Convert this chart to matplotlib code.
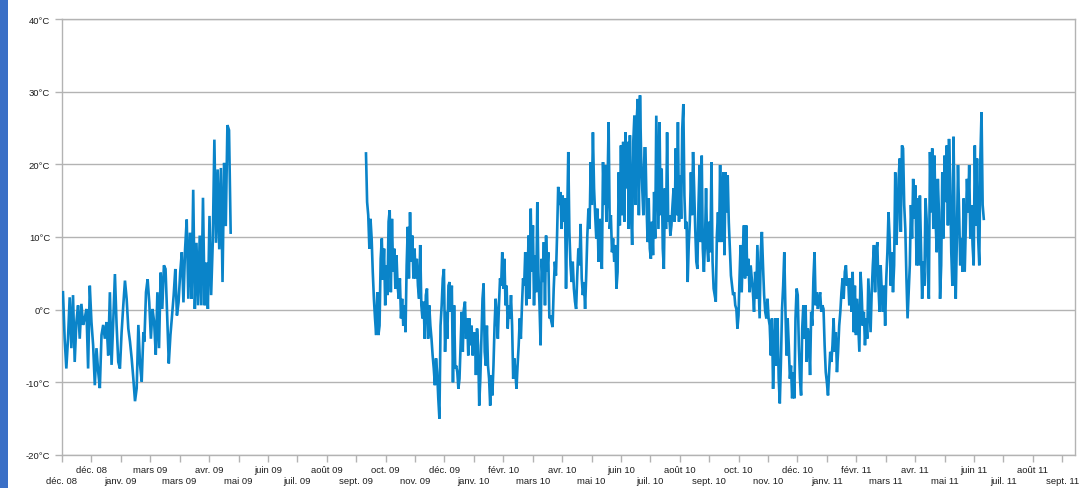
import matplotlib
matplotlib.use("Agg")
import matplotlib.pyplot as plt
from matplotlib.patches import Rectangle
import numpy as np
import pandas as pd

plt.rcParams["font.family"] = ["Liberation Sans", "DejaVu Sans"]

# ---------------------------------------------------------------------------
# Colours
# ---------------------------------------------------------------------------
C_LINE = "#0a84c9"
C_GRID = "#b3b3b3"
C_TEXT = "#1e1e1e"
C_BAR = "#3a6fc6"

# ---------------------------------------------------------------------------
# Temperature record (°C), one list per stretch of logger readings
# ---------------------------------------------------------------------------
DATES_WINTER_08 = ("2008-12-02", "2009-02-22")
T_WINTER_08 = [2.4, -4.0, -8.1, -4.0, 1.7, -5.3, 2.0, -7.2, -1.7, 0.6, -4.0, 0.8,
               -2.1, -1.2, 0.1, -8.1, 3.3, -1.7, -4.9, -10.4, -5.3, -8.5, -10.8,
               -3.5, -2.1, -4.0, -1.7, -6.3, 2.4, -7.6, -1.7, 4.9, -2.1, -7.2,
               -8.1, -3.1, 0.6, 4.0, 1.5, -2.6, -4.4, -6.7, -9.5, -12.6, -10.8,
               -2.1, -7.6, -9.9, -3.1]

DATES_SPRING_09 = ("2009-02-23", "2009-05-22")
T_SPRING_09 = [-4.4, 2.4, 4.2, 1.0, -4.0, 0.1, -1.7, -6.2, 2.4, -5.3, 5.1, 0.1,
               6.1, 5.6, -0.8, -7.4, -3.5, -0.8, 2.0, 5.6, -0.8, 1.0, 5.1, 7.9,
               1.0, 8.3, 12.4, 1.5, 10.6, 1.5, 16.5, 0.1, 9.2, 0.6, 10.2, 0.6,
               15.4, 0.6, 6.5, 0.1, 12.9, 2.0, 9.2, 23.4, 9.2, 19.3, 8.3, 19.5,
               3.8, 20.2, 11.5, 25.4, 24.7, 10.6]

DATES_AUTUMN_09 = ("2009-10-07", "2010-01-06")
T_AUTUMN_09 = [21.5, 14.8, 13.0, 8.4, 12.5, 9.8, 5.2, 1.5, -1.2, -3.5, 2.4, -3.5,
               -2.2, 7.0, 9.8, 4.1, 8.4, 0.6, 6.1, 2.0, 12.1, 13.7, 2.4, 12.5,
               5.2, 8.4, 2.9, 7.5, 3.3, 1.5, 4.3, -1.2, 1.5, -2.2, 0.6, -3.1,
               6.1, 11.4, 4.3, 13.4, 6.6, 10.2, 4.3, 8.4, 4.3, 7.0, 3.3, 1.5,
               8.9, 0.6, -1.2, 1.1, -4.0, 2.0, 2.9, -4.0, 0.6, -2.2, -4.0, -6.3,
               -8.1, -10.4, -6.7, -8.6, -12.2, -15.0, -2.2, 0.6, 4.3, 5.6, -5.8,
               -0.3, -4.0, 3.3, 3.8, -0.3, 3.3, -10.0, 0.6, -8.1]

DATES_WINTER_10 = ("2010-01-07", "2010-04-12")
T_WINTER_10 = [-7.7, -8.6, -10.9, -9.5, -4.9, -0.3, -5.8, 0.1, 1.1, -4.0, -1.2,
               -6.3, -1.2, -4.9, -2.2, -6.3, -4.0, -3.1, -9.0, -2.6, -4.9, -13.2,
               -9.5, -4.0, 1.5, 3.6, -5.8, -7.7, -2.2, -7.7, -9.5, -13.2, -9.0,
               -11.8, -7.7, -2.2, 1.5, -0.8, -4.0, 0.6, 4.3, 3.3, 7.9, 2.9, 7.0,
               0.6, 3.3, -2.6, 0.6, -1.2, 2.0, -2.2, -9.5, -6.7, -8.6, -10.9,
               -7.7, -4.9, -1.2, -4.0, 0.6, 4.3, 3.3, 7.9, 0.6, 3.3, 10.2, 1.5,
               13.9, 5.2, 11.6, 0.6, 7.5, 2.4, 14.8, 5.2, 0.6, -4.9, 7.0, 3.8,
               9.3, 0.6, 10.2, 5.2, 7.9, -1.2]

DATES_SPRING_10 = ("2010-04-13", "2010-07-18")
T_SPRING_10 = [-0.8, -1.7, -2.4, 2.9, 6.6, 4.7, 10.2, 16.9, 14.4, 16.2, 11.1,
               15.7, 12.1, 15.3, 2.9, 12.1, 21.7, 10.7, 6.1, 3.8, 6.6, 2.9, 1.1,
               0.1, 4.7, 8.4, 6.1, 11.8, 4.3, 2.0, 3.8, 0.1, 4.7, 10.2, 13.9,
               11.1, 20.3, 14.4, 24.4, 16.7, 13.0, 9.8, 13.9, 6.6, 12.5, 7.5,
               5.6, 20.3, 14.4, 19.9, 12.1, 16.7, 25.8, 11.1, 13.0, 7.9, 9.8,
               6.6, 8.9, 2.9, 5.2, 18.9, 11.6, 22.6, 13.0, 23.1, 12.1, 24.4,
               16.7, 23.1, 11.1, 24.0, 14.4, 8.9, 23.1, 26.7, 14.4, 25.8, 29.0,
               13.0, 29.5, 21.2, 16.7, 13.0, 22.2]

DATES_SUMMER_10 = ("2010-07-19", "2010-10-23")
T_SUMMER_10 = [22.2, 14.4, 9.3, 15.3, 8.4, 7.0, 12.1, 7.5, 16.2, 9.8, 26.7, 18.9,
               11.1, 25.8, 13.0, 19.4, 8.4, 5.6, 16.7, 11.1, 24.4, 12.1, 13.0,
               10.2, 11.6, 14.4, 16.7, 12.1, 22.2, 13.0, 25.8, 12.1, 18.5, 12.5,
               24.9, 28.3, 15.7, 11.1, 12.1, 3.8, 8.9, 12.1, 18.9, 13.0, 21.7,
               16.7, 11.1, 6.6, 5.6, 14.4, 19.9, 9.3, 21.2, 8.4, 5.2, 9.3, 16.7,
               8.9, 6.6, 12.1, 7.9, 20.3, 6.6, 2.9, 2.0, 1.1, 10.2, 13.4, 9.3,
               19.9, 9.3, 14.4, 18.9, 7.5, 18.9, 13.4, 18.5, 12.1, 8.4, 4.7, 3.3,
               2.0, 2.4, 0.6, 0.1, -2.6, -0.8, 4.7]

DATES_SEASON_11 = ("2010-10-24", "2011-06-29")
T_SEASON_11 = [8.9, 2.4, 7.9, 11.6, 4.3, 11.6, 4.7, 7.0, 2.4, 6.1, 4.3, 2.4,
               -0.3, 5.2, 1.5, 8.9, 3.8, -1.2, 7.9, 10.7, 6.1, 2.0, -0.3, -1.2,
               1.5, -1.2, -2.2, -6.3, -1.2, -10.9, -4.9, -1.2, -7.7, -1.2, -9.5,
               -12.9, -7.2, 0.1, 3.3, 7.9, 0.1, -6.3, -1.2, -4.9, -9.5, -7.7,
               -12.2, -8.6, -12.2, -1.2, 2.9, 2.0, -4.9, -9.5, -11.8, -2.6, 0.6,
               -4.0, 0.6, -7.2, -2.6, -4.0, -9.0, -0.3, -2.2, 4.3, 7.9, 0.6, 2.4,
               0.1, 1.5, 2.4, -0.3, 0.6, 0.1, -4.9, -8.6, -10.0, -11.8, -8.6,
               -5.8, -7.2, -4.9, -1.2, -5.8, -3.1, -8.6, -5.8, -2.2, -0.3, 2.4,
               4.3, 1.5, 5.2, 6.1, 3.3, 4.3, 0.6, 4.3, -0.3, 5.2, -3.1, 3.3,
               -3.5, 1.5, -2.2, -5.8, 5.2, 2.4, -2.2, -0.3, -4.9, -1.2, -4.0,
               4.3, 0.6, -3.1, 2.4, 6.1, 8.9, 2.4, 7.9, 9.3, 3.3, -0.3, 6.1, 2.4,
               -0.3, 3.3, -2.2, 4.3, 7.9, 13.4, 9.8, 3.3, 7.9, 2.4, 6.1, 18.9,
               8.9, 12.5, 18.0, 20.8, 10.7, 22.6, 22.2, 14.4, 11.1, 4.3, -1.2,
               2.4, 6.1, 14.4, 9.8, 18.0, 12.5, 17.1, 6.1, 15.3, 6.1, 15.7, 8.9,
               1.5, 6.6, 3.3, 15.3, 12.5, 5.2, 1.5, 21.7, 13.4, 22.2, 11.1, 21.2,
               12.5, 7.9, 18.0, 13.4, 1.5, 6.1, 18.9, 9.8, 21.2, 14.8, 22.6,
               11.6, 23.5, 18.0, 7.9, 3.3, 23.8, 11.6, 1.5, 9.8, 19.9, 13.4, 6.1,
               9.8, 5.2, 15.3, 5.2, 11.6, 18.0, 13.4, 19.9, 9.8, 14.4, 8.9, 6.1,
               22.6, 11.6, 20.8, 9.8, 6.1, 21.2, 27.2, 14.4, 12.5]

# Logger was offline between late May and early October 2009
RUNS = [
    [(DATES_WINTER_08, T_WINTER_08), (DATES_SPRING_09, T_SPRING_09)],
    [(DATES_AUTUMN_09, T_AUTUMN_09), (DATES_WINTER_10, T_WINTER_10),
     (DATES_SPRING_10, T_SPRING_10), (DATES_SUMMER_10, T_SUMMER_10),
     (DATES_SEASON_11, T_SEASON_11)],
]

# ---------------------------------------------------------------------------
# Axis ticks: one every 30 days from the first of December 2008
# ---------------------------------------------------------------------------
X_START = pd.Timestamp("2008-12-01")
X_END = pd.Timestamp("2011-09-30")
TICK_DATES = pd.date_range(X_START, periods=35, freq="30D")
X_LABELS = ["déc. 08", "déc. 08", "janv. 09", "mars 09", "mars 09", "avr. 09",
            "mai 09", "juin 09", "juil. 09", "août 09", "sept. 09", "oct. 09",
            "nov. 09", "déc. 09", "janv. 10", "févr. 10", "mars 10", "avr. 10",
            "mai 10", "juin 10", "juil. 10", "août 10", "sept. 10", "oct. 10",
            "nov. 10", "déc. 10", "janv. 11", "févr. 11", "mars 11", "avr. 11",
            "mai 11", "juin 11", "juil. 11", "août 11", "sept. 11"]
Y_TICKS = [-20, -10, 0, 10, 20, 30, 40]
Y_LABELS = ["-20°C", "-10°C", "0°C", "10°C", "20°C", "30°C", "40°C"]

# ---------------------------------------------------------------------------
# Figure
# ---------------------------------------------------------------------------
fig = plt.figure(figsize=(10.82, 4.89), dpi=100)
fig.patch.set_facecolor("white")
ax = fig.add_axes([0.0573, 0.0675, 0.9362, 0.8916])

# window edge strip on the left
fig.add_artist(Rectangle((0, 0), 8 / 1082, 1, transform=fig.transFigure,
                         facecolor=C_BAR, edgecolor="none"))

for run in RUNS:
    xs, ys = [], []
    for (d0, d1), vals in run:
        xs.append(pd.date_range(d0, d1, periods=len(vals)))
        ys.append(np.asarray(vals))
    ax.plot(np.concatenate([x.values for x in xs]), np.concatenate(ys),
            color=C_LINE, lw=1.9, solid_joinstyle="miter", zorder=3)

ax.set_xlim(X_START, X_END)
ax.set_ylim(-20, 40)

ax.set_yticks(Y_TICKS)
ax.set_yticklabels(Y_LABELS)

# staggered date labels: odd ticks on the first row, even ticks below them
ax.set_xticks(TICK_DATES[1::2])
ax.set_xticklabels(X_LABELS[1::2])
ax.set_xticks(TICK_DATES[0::2], minor=True)
ax.set_xticklabels(X_LABELS[0::2], minor=True)

ax.tick_params(axis="both", which="both", labelsize=6.8, colors=C_TEXT,
               length=5, width=1, direction="out")
ax.tick_params(axis="x", which="major", color=C_GRID, pad=2.5)
ax.tick_params(axis="x", which="minor", color=C_GRID, pad=10)
ax.tick_params(axis="y", color=C_GRID, pad=3.5)

ax.yaxis.grid(True, color=C_GRID, lw=1)
ax.set_axisbelow(True)
for spine in ax.spines.values():
    spine.set_edgecolor(C_GRID)
    spine.set_linewidth(1)

fig.savefig("out.png", dpi=100, facecolor="white")
